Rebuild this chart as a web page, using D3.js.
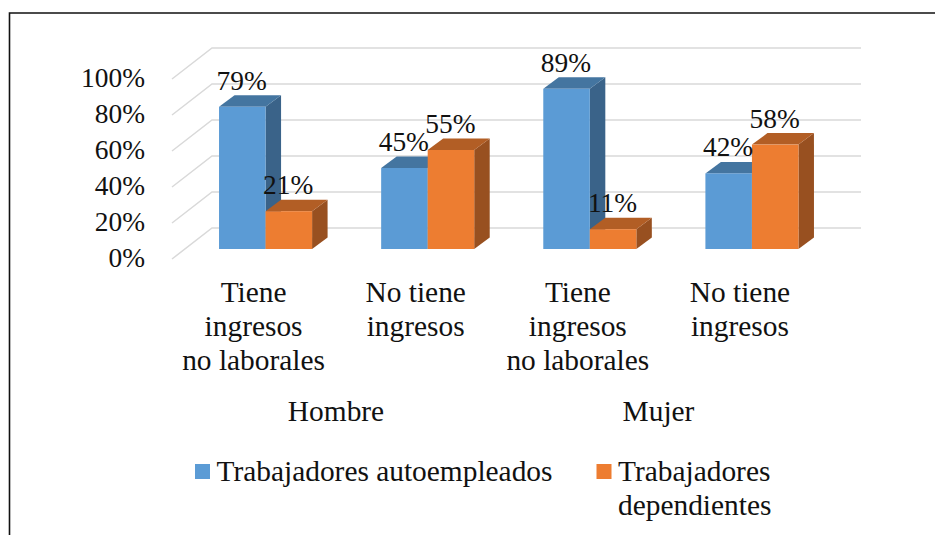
<!DOCTYPE html>
<html>
<head>
<meta charset="utf-8">
<script src="https://cdn.jsdelivr.net/npm/d3@7"></script>
<style>
  html, body { margin: 0; padding: 0; background: #fff; overflow: hidden; }
  text { font-family: "Liberation Serif", serif; fill: #111; }
</style>
</head>
<body>
<script>
// values
const categories = ['Tiene|ingresos|no laborales', 'No tiene|ingresos', 'Tiene|ingresos|no laborales', 'No tiene|ingresos'];
const groups = ['Hombre', 'Mujer'];
const seriesNames = ['Trabajadores autoempleados', 'Trabajadores|dependientes'];
const autoempleados = [79, 45, 89, 42];
const dependientes = [21, 55, 11, 58];
const ticks = [0, 20, 40, 60, 80, 100];

const width = 935;
const height = 535;
const numberSize = 27.4;
const labelSize = 29.4;

const colors = [
  { front: '#5b9bd5', top: '#4475a0', side: '#3a6389' },
  { front: '#ed7d31', top: '#b25e25', side: '#985020' }
];

const svg = d3.select('body').append('svg')
  .attr('width', width)
  .attr('height', height);

// outer frame, only left and top are in the picture
svg.append('path')
  .attr('d', 'M9.5,535V13H935')
  .attr('fill', 'none')
  .attr('stroke', '#111')
  .attr('stroke-width', 1.6);

// scales: bars sit on the front plane, gridlines on the back wall
const xScale = d3.scaleBand()
  .domain(d3.range(categories.length))
  .range([184.5, 833])
  .paddingInner(0.426)
  .paddingOuter(0.213);

const seriesScale = d3.scaleBand()
  .domain([0, 1])
  .range([0, xScale.bandwidth()]);

const yBar = d3.scaleLinear().domain([0, 100]).range([249, 69]);
const yWall = d3.scaleLinear().domain([0, 100]).range([228, 48]);
const yFront = d3.scaleLinear().domain([0, 100]).range([259, 79]);

const wallLeft = 212;
const wallRight = 861;
const floorLeft = 172;
const depthX = 15.5;
const depthY = 11.5;

// gridlines
const grid = svg.append('g')
  .attr('fill', 'none')
  .attr('stroke', '#d9d9d9')
  .attr('stroke-width', 1.5);

grid.selectAll('path').data(ticks)
  .enter().append('path')
  .attr('d', d => `M${floorLeft},${yFront(d)}L${wallLeft},${yWall(d)}H${wallRight}`);

// y axis labels
svg.append('g').selectAll('text').data(ticks)
  .enter().append('text')
  .attr('x', 145)
  .attr('y', d => yFront(d) + 8)
  .attr('text-anchor', 'end')
  .attr('font-size', numberSize)
  .text(d => d + '%');

// bars, one box per value
const bars = [];
[autoempleados, dependientes].forEach((values, s) => {
  values.forEach((v, i) => bars.push({ i, s, v }));
});
const barX = d => xScale(d.i) + seriesScale(d.s);
const barW = seriesScale.bandwidth();

const box = svg.append('g').selectAll('g').data(bars)
  .enter().append('g');

box.append('path')
  .attr('fill', d => colors[d.s].side)
  .attr('d', d => {
    const x = barX(d) + barW;
    return `M${x},${yBar(d.v)}l${depthX},${-depthY}V${yBar(0) - depthY}l${-depthX},${depthY}Z`;
  });

box.append('path')
  .attr('fill', d => colors[d.s].top)
  .attr('d', d => `M${barX(d)},${yBar(d.v)}l${depthX},${-depthY}h${barW}l${-depthX},${depthY}Z`);

box.append('rect')
  .attr('fill', d => colors[d.s].front)
  .attr('x', barX)
  .attr('y', d => yBar(d.v))
  .attr('width', barW)
  .attr('height', d => yBar(0) - yBar(d.v));

// data labels go last, they overlap the boxes
svg.append('g').selectAll('text').data(bars)
  .enter().append('text')
  .attr('x', d => barX(d) + barW / 2 - 0.6)
  .attr('y', d => yBar(d.v) - 17)
  .attr('text-anchor', 'middle')
  .attr('font-size', numberSize)
  .text(d => d.v + '%');

// category labels, split on |
const catLabels = svg.append('g').selectAll('text').data(categories)
  .enter().append('text')
  .attr('text-anchor', 'middle')
  .attr('font-size', labelSize)
  .attr('transform', (d, i) => `translate(${xScale(i) + xScale.bandwidth() / 2 - 12},302)`);

catLabels.selectAll('tspan').data(d => d.split('|'))
  .enter().append('tspan')
  .attr('x', 0)
  .attr('y', (d, i) => i * 34)
  .text(d => d);

// group labels
svg.append('g').selectAll('text').data(groups)
  .enter().append('text')
  .attr('x', (d, i) => [336, 658.5][i])
  .attr('y', 421)
  .attr('text-anchor', 'middle')
  .attr('font-size', labelSize)
  .text(d => d);

// legend
const legend = svg.append('g').selectAll('g').data(seriesNames)
  .enter().append('g')
  .attr('transform', (d, i) => `translate(${[195, 596.5][i]},464)`);

legend.append('rect')
  .attr('width', 15)
  .attr('height', 15)
  .attr('fill', (d, i) => colors[i].front);

const legendText = legend.append('text')
  .attr('font-size', labelSize);

legendText.selectAll('tspan').data(d => d.split('|'))
  .enter().append('tspan')
  .attr('x', 21.5)
  .attr('y', (d, i) => 17 + i * 33.5)
  .text(d => d);
</script>
</body>
</html>
